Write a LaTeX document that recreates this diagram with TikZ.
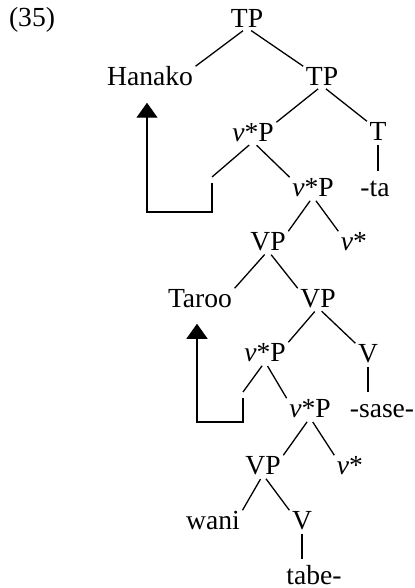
\documentclass[tikz,border=0pt]{standalone}
\usepackage{fontspec}
\setmainfont{Liberation Serif}
\usetikzlibrary{arrows.meta}

\begin{document}
\begin{tikzpicture}[x=0.5pt,y=-0.5pt,font=\fontsize{13.8pt}{16pt}\selectfont,line width=0.65pt]
\tikzstyle{every node}=[inner xsep=1pt,inner ysep=0pt,text height=9.1pt,text depth=0pt]
\tikzstyle{branch}=[shorten <=2.5pt]
\tikzstyle{stem}=[shorten <=2pt,shorten >=3pt]
\tikzstyle{move}=[-{Triangle[width=10.5pt,length=7.5pt]}]
\useasboundingbox (0,0) rectangle (415,588);

\node (num) at (32,17) {(35)};
% ========= TP layer
\node (tp1) at (247,18) {TP};
\node (hanako) at (150,76) {Hanako};
\node (tp2) at (322,76) {TP};
\node (vsp1) at (253,132) {\textit{v}*P};
\node (t) at (378,131) {T};
\node (ta) at (375,187) {-ta};
\coordinate (gap1) at (212,177);
\node (vsp2) at (313,187) {\textit{v}*P};
\node (vp1) at (268,241) {VP};
\node (vs1) at (354,241) {\textit{v}*};
% ========= causative VP
\node (taroo) at (200,298) {Taroo};
\node (vp2) at (318,298) {VP};
\node (vsp3) at (265,352) {\textit{v}*P};
\node (v1) at (368,353) {V};
\node (sase) at (382,408) {-sase-};
\coordinate (gap2) at (243,392);
\node (vsp4) at (310,408) {\textit{v}*P};
\node (vp3) at (263,465) {VP};
\node (vs2) at (350,465) {\textit{v}*};
\node (wani) at (213,520) {wani};
\node (v2) at (302,520) {V};
\node (tabe) at (314,575) {tabe-};

% ====== branches
\draw [branch] (tp1.south) -- (hanako.north east);
\draw [branch] (tp1.south) -- (tp2.north west);
\draw [branch] (tp2.south) -- (vsp1.north east);
\draw [branch] (tp2.south) -- (t.north west);
\draw [stem] (t.south) -- (t.south |- ta.north);
\draw [branch] (vsp1.south) -- (gap1);
\draw [branch] (vsp1.south) -- (vsp2.north west);
\draw [branch] (vsp2.south) -- (vp1.north east);
\draw [branch] (vsp2.south) -- (vs1.north west);
\draw [branch] (vp1.south) -- (taroo.north east);
\draw [branch] (vp1.south) -- (vp2.north west);
\draw [branch] (vp2.south) -- (vsp3.north east);
\draw [branch] (vp2.south) -- (v1.north west);
\draw [stem] (v1.south) -- (v1.south |- sase.north);
\draw [branch] (vsp3.south) -- (gap2);
\draw [branch] (vsp3.south) -- (vsp4.north west);
\draw [branch] (vsp4.south) -- (vp3.north east);
\draw [branch] (vsp4.south) -- (vs2.north west);
\draw [branch] (vp3.south) -- (wani.north east);
\draw [branch] (vp3.south) -- (v2.north west);
\draw [stem] (v2.south) -- (v2.south |- tabe.north);

%% ===== movement
\draw [move] ([yshift=-3pt]gap1) -- ++(0,29) -| ([xshift=-1.5pt,yshift=-8.5pt]hanako.south);
\draw [move] ([yshift=-3pt]gap2) -- ++(0,24) -| ([xshift=-1.5pt,yshift=-8pt]taroo.south);
\end{tikzpicture}
\end{document}
